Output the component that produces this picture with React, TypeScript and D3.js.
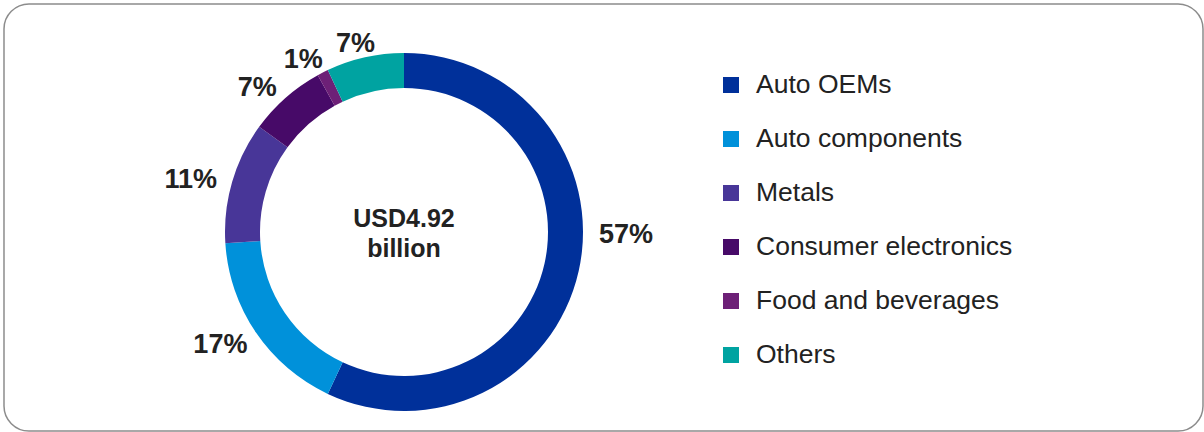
import React from "react";
import * as d3 from "d3";

const categories = ["Auto OEMs", "Auto components", "Metals", "Consumer electronics", "Food and beverages", "Others"];
const shares = [57, 17, 11, 7, 1, 7];
const colors = ["#00309A", "#0091DA", "#483698", "#470A68", "#6D2077", "#00A3A1"];
const centerLines = ["USD4.92", "billion"];

const W = 1204;
const H = 432;
const cx = 404;
const cy = 232;
const R = 179;
const r = 144;
const labelRx = 222;
const labelRy = 196;

export default function App() {
  const pie = d3.pie<number>().sort(null).value((d) => d)(shares);
  const arc = d3.arc<d3.PieArcDatum<number>>().innerRadius(r).outerRadius(R);
  const labelFont = 27;
  const labels = pie.map((p, i) => {
    const text = `${shares[i]}%`;
    let a = (p.startAngle + p.endAngle) / 2;
    if (p.endAngle - p.startAngle > Math.PI) a = Math.PI / 2;
    const s = Math.sin(a);
    const c = -Math.cos(a);
    return { text, x: cx + s * labelRx, y: cy + c * labelRy + 2 };
  });
  const legendY = d3.scalePoint<string>().domain(categories).range([85, 355]);
  return (
    <svg width={W} height={H} style={{ position: "absolute", left: 0, top: 0 }} fontFamily="'Liberation Sans', Arial, sans-serif">
      <rect x={4} y={4} width={1199} height={427} rx={25} ry={25} fill="#fff" stroke="#8c8c8c" strokeWidth={1.5} />
      <g transform={`translate(${cx},${cy})`}>
        {pie.map((p, i) => (
          <path key={i} d={arc(p) || ""} fill={colors[i]} />
        ))}
      </g>
      {labels.map((l, i) => (
        <text key={i} x={l.x} y={l.y} textAnchor="middle" dominantBaseline="central" fontSize={labelFont} fontWeight="bold" fill="#222">
          {l.text}
        </text>
      ))}
      {centerLines.map((t, i) => (
        <text key={i} x={cx} y={cy - 5 + i * 30} textAnchor="middle" fontSize={25} fontWeight="bold" fill="#222">
          {t}
        </text>
      ))}
      {categories.map((c, i) => (
        <g key={c} transform={`translate(723,${legendY(c)})`}>
          <rect x={0} y={-8} width={16} height={16} fill={colors[i]} />
          <text x={33} y={8} fontSize={26.5} fill="#222">{c}</text>
        </g>
      ))}
    </svg>
  );
}
